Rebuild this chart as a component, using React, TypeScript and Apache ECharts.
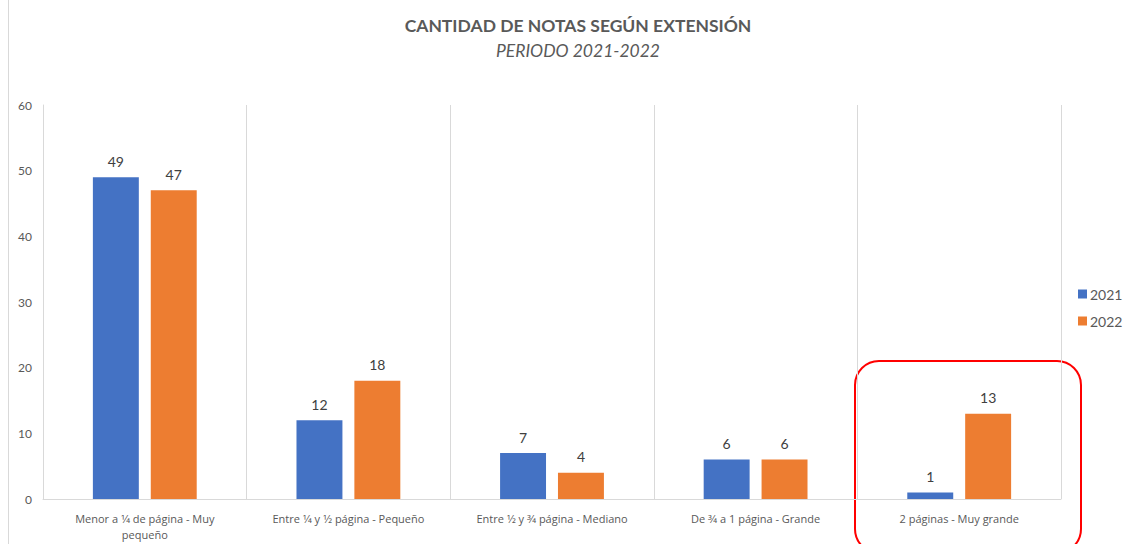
import React, { useEffect, useRef } from "react";
import * as echarts from "echarts";

const categories = [
  "Menor a 1⁄4 de página - Muy\npequeño",
  "Entre 1⁄4 y 1⁄2 página - Pequeño",
  "Entre 1⁄2 y 3⁄4 página - Mediano",
  "De 3⁄4 a 1 página - Grande",
  "2 páginas - Muy grande",
];
const values2021 = [49, 12, 7, 6, 1];
const values2022 = [47, 18, 4, 6, 13];
const seriesNames = ["2021", "2022"];

const FONT = "Lato, 'Open Sans', sans-serif";
const AXFONT = "'Open Sans', 'Noto Sans', sans-serif";

export default function App() {
  const ref = useRef<HTMLDivElement>(null);
  useEffect(() => {
    if (!ref.current) return;
    const chart = echarts.init(ref.current, null, { renderer: "svg" });
    const labelStyle = {
      show: true,
      position: "top",
      distance: 9,
      color: "#404040",
      fontSize: 14,
      fontFamily: FONT,
    };
    chart.setOption({
      animation: false,
      backgroundColor: "#ffffff",
      textStyle: { fontFamily: FONT },
      title: {
        text: "CANTIDAD DE NOTAS SEGÚN EXTENSIÓN",
        subtext: "PERIODO 2021-2022",
        left: 573,
        textAlign: "center",
        top: 11,
        itemGap: 7,
        textStyle: { fontSize: 17.5, fontWeight: "bold", color: "#595959", fontFamily: FONT },
        subtextStyle: { fontSize: 17.5, fontStyle: "italic", color: "#595959", fontFamily: FONT },
      },
      legend: {
        orient: "vertical",
        left: 1073,
        top: 282,
        itemWidth: 9,
        itemHeight: 9,
        itemGap: 13,
        icon: "rect",
        data: seriesNames,
        textStyle: { fontSize: 14, color: "#595959", fontFamily: FONT, padding: [0, 0, 0, -2] },
      },
      grid: { left: 43, right: 76, top: 105, bottom: 45, containLabel: false },
      xAxis: {
        type: "category",
        data: categories,
        axisLine: { show: true, lineStyle: { color: "#d9d9d9" } },
        axisTick: { show: false },
        splitLine: { show: true, lineStyle: { color: "#d9d9d9" } },
        axisLabel: {
          color: "#595959",
          fontSize: 11,
          fontFamily: AXFONT,
          margin: 11,
          interval: 0,
          lineHeight: 16,
        },
      },
      yAxis: {
        type: "value",
        min: 0,
        max: 60,
        interval: 10,
        axisLine: { show: true, lineStyle: { color: "#d9d9d9" } },
        axisTick: { show: false },
        splitLine: { show: false },
        axisLabel: { color: "#595959", fontSize: 12, fontFamily: FONT, margin: 11 },
      },
      series: [
        {
          name: seriesNames[0],
          type: "bar",
          data: values2021,
          itemStyle: { color: "#4472C4" },
          barGap: "26%",
          barCategoryGap: "49%",
          label: labelStyle,
        },
        {
          name: seriesNames[1],
          type: "bar",
          data: values2022,
          itemStyle: { color: "#ED7D31" },
          barGap: "26%",
          barCategoryGap: "49%",
          label: labelStyle,
        },
      ],
      graphic: [
        {
          type: "line",
          shape: { x1: 8.5, y1: 0, x2: 8.5, y2: 544 },
          style: { stroke: "#d9d9d9", lineWidth: 1 },
        },
        {
          type: "rect",
          shape: { x: 855, y: 361, width: 226, height: 192, r: 24 },
          style: { fill: "none", stroke: "#FF0000", lineWidth: 2 },
        },
      ],
    });
    return () => chart.dispose();
  }, []);
  return (
    <div
      ref={ref}
      style={{ position: "fixed", left: 0, top: 0, width: 1137, height: 544 }}
    />
  );
}
